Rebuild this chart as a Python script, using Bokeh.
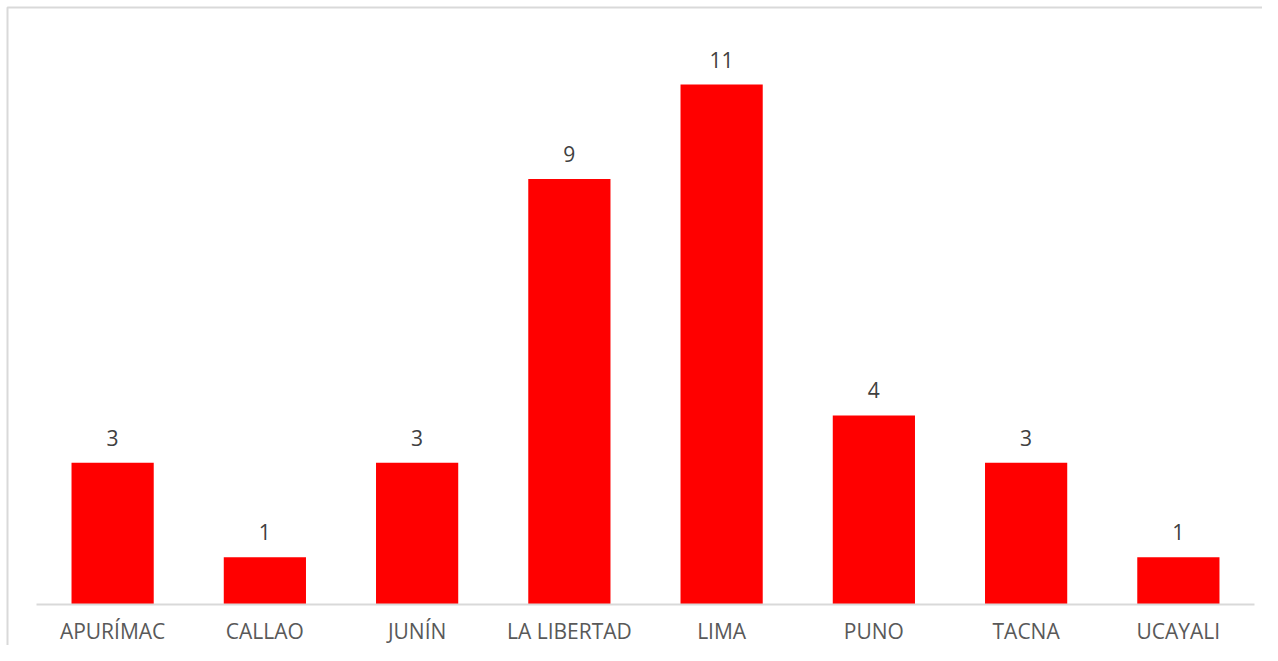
from bokeh.plotting import figure
from bokeh.models import ColumnDataSource, LabelSet, Range1d, BoxAnnotation
from bokeh.core.properties import value
from bokeh.embed import file_html
from bokeh.resources import INLINE

regions = ["APURÍMAC", "CALLAO", "JUNÍN", "LA LIBERTAD", "LIMA", "PUNO", "TACNA", "UCAYALI"]
counts = [3, 1, 3, 9, 11, 4, 3, 1]

idx = list(range(len(regions)))
src = ColumnDataSource(dict(x=idx, y=counts, zero=[0] * len(idx),
                            lab=[str(c) for c in counts], cat=regions))

n = len(regions)
W, H = 1262, 645
left_px, right_px, base_px, px_per_unit = 36, 8, 604, 47.27
step = (W - left_px - right_px) / n
x0 = -0.5 - left_px / step
x1 = n - 0.5 + right_px / step
y0 = -(H - base_px) / px_per_unit
y1 = base_px / px_per_unit
x_rng = Range1d(x0, x1)
y_rng = Range1d(y0, y1)

p = figure(x_range=x_rng, y_range=y_rng, width=W, height=H,
           output_backend="svg", toolbar_location=None,
           min_border=0, min_border_left=0, min_border_right=0,
           min_border_top=0, min_border_bottom=0)
p.axis.visible = False
p.grid.grid_line_color = None
p.outline_line_color = None

# chart-area border (left and top visible; right/bottom fall outside the canvas)
border = BoxAnnotation(left=x0 + 7 / step, top=y1 - 7 / px_per_unit,
                       right=x1 + 5, bottom=y0 - 5,
                       fill_alpha=0, line_color="#d9d9d9", line_alpha=1.0, line_width=2)
p.add_layout(border)

p.vbar(x="x", top="y", width=0.54, source=src, color="#ff0000", line_color=None)

# category baseline
p.segment(x0=[-0.5], y0=[0], x1=[n - 0.5], y1=[0], line_color="#d9d9d9", line_width=2)

vals = LabelSet(x="x", y="y", text="lab", source=src, text_align="center",
                text_baseline="bottom", y_offset=17, text_font=value("Open Sans"),
                text_font_size="21px", text_color="#404040")
p.add_layout(vals)

cats = LabelSet(x="x", y="zero", text="cat", source=src, text_align="center",
                text_baseline="middle", y_offset=-26, text_font=value("Open Sans"),
                text_font_size="21px", text_color="#595959")
p.add_layout(cats)

open("out.html", "w").write(file_html(p, INLINE))
